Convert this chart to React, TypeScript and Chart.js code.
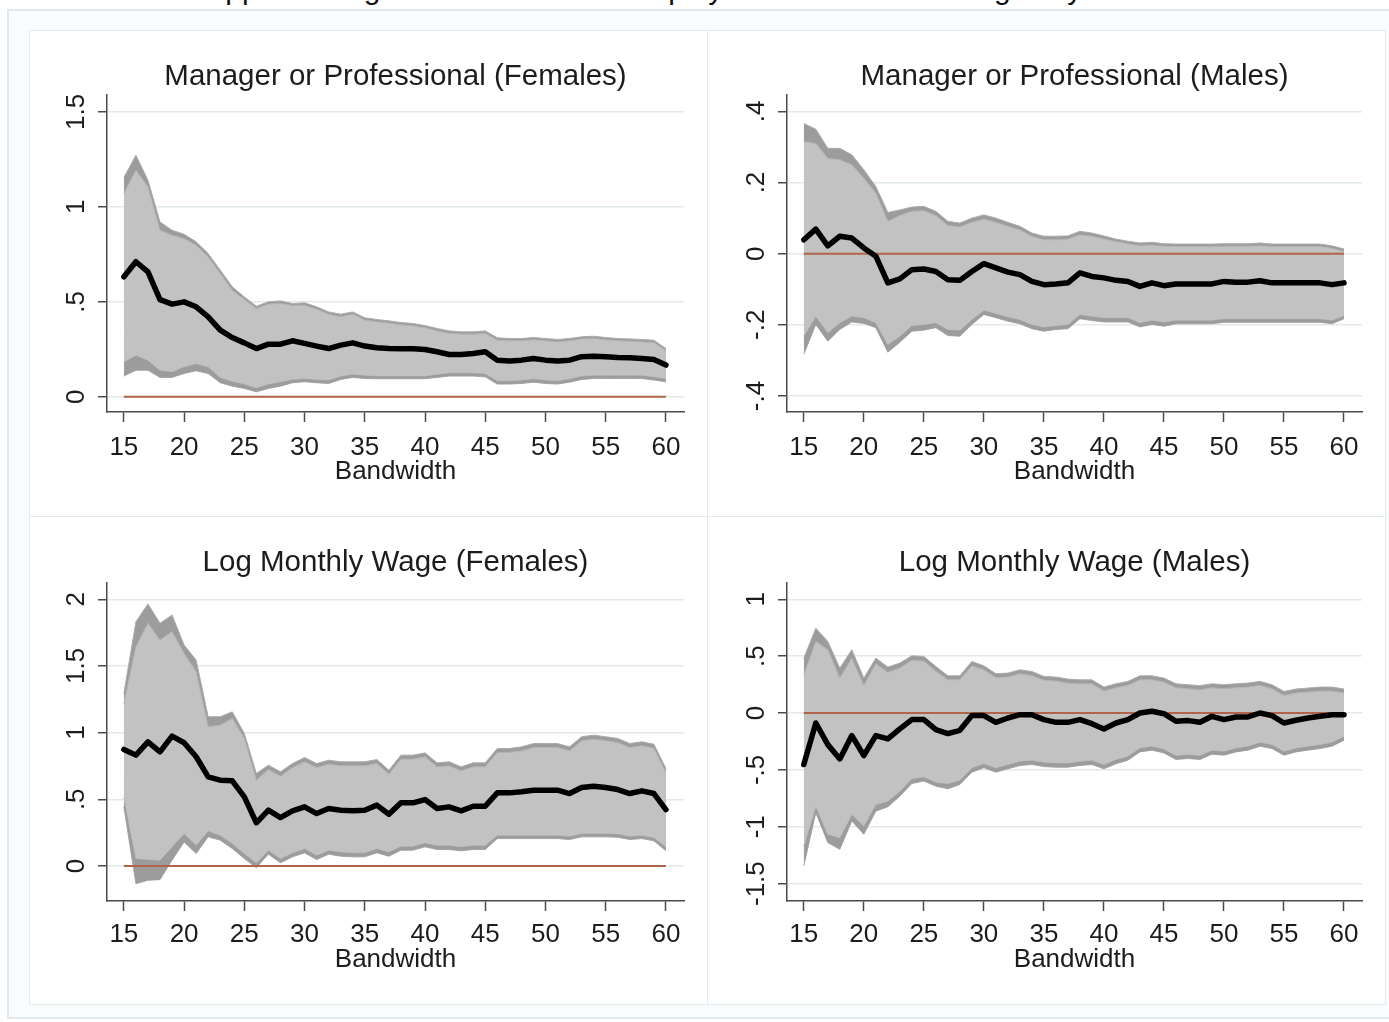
import React, { useEffect, useRef } from 'react';
import { Chart, registerables } from 'chart.js';

Chart.register(...registerables);

const FONT = '"Liberation Sans", Arial, Helvetica, sans-serif';
const TEXT = '#1c1c1c';
const AXIS = '#4a4a4a';
const GRID = '#e1e9ed';
const OUTER_FILL = '#9c9c9c';
const INNER_FILL = '#c2c2c2';
const ZERO_LINE = '#b0654a';

// Bandwidth values on the horizontal axis
const bandwidth = [
  15, 16, 17, 18, 19, 20, 21, 22, 23, 24, 25, 26, 27, 28, 29, 30, 31, 32, 33, 34, 35, 36, 37,
  38, 39, 40, 41, 42, 43, 44, 45, 46, 47, 48, 49, 50, 51, 52, 53, 54, 55, 56, 57, 58, 59, 60,
];
const xTicks = [15, 20, 25, 30, 35, 40, 45, 50, 55, 60];

// Manager or Professional (Females)
const mgrFemEst = [
  0.632, 0.711, 0.658, 0.512, 0.488, 0.5, 0.474, 0.421, 0.351, 0.312, 0.284, 0.254, 0.277, 0.277,
  0.295, 0.281, 0.267, 0.254, 0.272, 0.284, 0.267, 0.258, 0.254, 0.253, 0.253, 0.249, 0.237, 0.223,
  0.223, 0.228, 0.237, 0.193, 0.189, 0.193, 0.202, 0.193, 0.188, 0.193, 0.211, 0.214, 0.211, 0.207,
  0.205, 0.202, 0.196, 0.167,
];
const mgrFemHi = [
  1.07, 1.193, 1.105, 0.877, 0.851, 0.833, 0.798, 0.737, 0.649, 0.561, 0.512, 0.465, 0.488, 0.491,
  0.481, 0.482, 0.461, 0.435, 0.421, 0.435, 0.404, 0.395, 0.388, 0.379, 0.374, 0.363, 0.347, 0.335,
  0.33, 0.33, 0.335, 0.298, 0.295, 0.295, 0.3, 0.295, 0.289, 0.295, 0.304, 0.307, 0.3, 0.295, 0.293,
  0.289, 0.286, 0.242,
];
const mgrFemLo = [
  0.184, 0.219, 0.193, 0.14, 0.132, 0.158, 0.175, 0.158, 0.102, 0.082, 0.067, 0.047, 0.067, 0.079,
  0.091, 0.096, 0.091, 0.088, 0.109, 0.119, 0.114, 0.11, 0.11, 0.11, 0.11, 0.11, 0.119, 0.126, 0.126,
  0.126, 0.123, 0.084, 0.084, 0.088, 0.095, 0.088, 0.084, 0.095, 0.109, 0.114, 0.114, 0.114, 0.114,
  0.114, 0.105, 0.096,
];
const mgrFemHiWide = [
  1.154, 1.272, 1.14, 0.921, 0.877, 0.856, 0.816, 0.754, 0.667, 0.579, 0.526, 0.477, 0.5, 0.505,
  0.491, 0.495, 0.474, 0.447, 0.435, 0.447, 0.416, 0.407, 0.4, 0.391, 0.386, 0.375, 0.36, 0.347,
  0.342, 0.342, 0.347, 0.311, 0.307, 0.307, 0.312, 0.307, 0.302, 0.307, 0.316, 0.319, 0.312, 0.307,
  0.305, 0.302, 0.298, 0.254,
];
const mgrFemLoWide = [
  0.109, 0.14, 0.14, 0.102, 0.102, 0.123, 0.137, 0.123, 0.074, 0.056, 0.044, 0.026, 0.044, 0.056,
  0.074, 0.079, 0.074, 0.07, 0.091, 0.102, 0.096, 0.095, 0.095, 0.095, 0.095, 0.095, 0.102, 0.109,
  0.109, 0.109, 0.105, 0.067, 0.067, 0.07, 0.077, 0.07, 0.067, 0.077, 0.091, 0.096, 0.096, 0.096,
  0.096, 0.096, 0.088, 0.079,
];
const mgrFemYTicks = [0, 0.5, 1, 1.5];
const mgrFemYLabels = ['0', '.5', '1', '1.5'];

// Manager or Professional (Males)
const mgrMaleEst = [
  0.039, 0.069, 0.022, 0.049, 0.044, 0.016, -0.007, -0.082, -0.071, -0.045, -0.043, -0.05, -0.073,
  -0.075, -0.05, -0.028, -0.04, -0.052, -0.059, -0.078, -0.087, -0.085, -0.082, -0.054, -0.064,
  -0.068, -0.075, -0.078, -0.092, -0.082, -0.09, -0.085, -0.085, -0.085, -0.085, -0.078, -0.08,
  -0.08, -0.076, -0.082, -0.082, -0.082, -0.082, -0.082, -0.087, -0.082,
];
const mgrMaleHi = [
  0.315, 0.31, 0.268, 0.264, 0.25, 0.212, 0.17, 0.091, 0.107, 0.119, 0.121, 0.107, 0.079, 0.075,
  0.088, 0.097, 0.088, 0.077, 0.067, 0.049, 0.039, 0.039, 0.041, 0.053, 0.049, 0.041, 0.034, 0.028,
  0.022, 0.024, 0.021, 0.02, 0.02, 0.02, 0.02, 0.021, 0.021, 0.021, 0.022, 0.02, 0.02, 0.02, 0.02,
  0.02, 0.015, 0.006,
];
const mgrMaleLo = [
  -0.232, -0.176, -0.222, -0.194, -0.176, -0.18, -0.194, -0.255, -0.232, -0.202, -0.199, -0.194,
  -0.213, -0.215, -0.185, -0.159, -0.168, -0.178, -0.185, -0.199, -0.206, -0.202, -0.199, -0.171,
  -0.176, -0.18, -0.18, -0.18, -0.194, -0.187, -0.192, -0.187, -0.187, -0.187, -0.187, -0.183,
  -0.183, -0.183, -0.183, -0.183, -0.183, -0.183, -0.183, -0.183, -0.187, -0.174,
];
const mgrMaleHiWide = [
  0.366, 0.35, 0.296, 0.296, 0.278, 0.236, 0.189, 0.116, 0.123, 0.131, 0.133, 0.119, 0.091, 0.086,
  0.1, 0.109, 0.1, 0.088, 0.077, 0.058, 0.049, 0.049, 0.05, 0.063, 0.058, 0.05, 0.041, 0.035, 0.03,
  0.032, 0.028, 0.027, 0.027, 0.027, 0.027, 0.028, 0.028, 0.028, 0.03, 0.027, 0.027, 0.027, 0.027,
  0.027, 0.022, 0.013,
];
const mgrMaleLoWide = [
  -0.283, -0.199, -0.246, -0.213, -0.192, -0.196, -0.208, -0.277, -0.249, -0.218, -0.215, -0.208,
  -0.23, -0.232, -0.199, -0.171, -0.18, -0.19, -0.197, -0.211, -0.218, -0.213, -0.211, -0.183,
  -0.188, -0.192, -0.192, -0.192, -0.206, -0.199, -0.204, -0.197, -0.197, -0.197, -0.197, -0.193,
  -0.193, -0.193, -0.193, -0.193, -0.193, -0.193, -0.193, -0.193, -0.197, -0.183,
];
const mgrMaleYTicks = [-0.4, -0.2, 0, 0.2, 0.4];
const mgrMaleYLabels = ['-.4', '-.2', '0', '.2', '.4'];

// Log Monthly Wage (Females)
const wageFemEst = [
  0.874, 0.831, 0.931, 0.856, 0.974, 0.924, 0.819, 0.668, 0.643, 0.638, 0.518, 0.323, 0.418, 0.363,
  0.413, 0.443, 0.393, 0.431, 0.418, 0.413, 0.418, 0.456, 0.388, 0.473, 0.473, 0.498, 0.431, 0.443,
  0.413, 0.448, 0.448, 0.548, 0.548, 0.556, 0.568, 0.568, 0.568, 0.543, 0.588, 0.598, 0.588, 0.573,
  0.543, 0.563, 0.543, 0.423,
];
const wageFemHi = [
  1.219, 1.644, 1.82, 1.694, 1.757, 1.594, 1.456, 1.044, 1.056, 1.106, 0.956, 0.643, 0.723, 0.673,
  0.738, 0.781, 0.738, 0.763, 0.751, 0.751, 0.751, 0.768, 0.688, 0.801, 0.801, 0.818, 0.743, 0.751,
  0.713, 0.743, 0.743, 0.851, 0.851, 0.863, 0.888, 0.888, 0.888, 0.863, 0.939, 0.951, 0.939, 0.926,
  0.888, 0.901, 0.883, 0.698,
];
const wageFemLo = [
  0.518, 0.055, 0.048, 0.043, 0.143, 0.243, 0.155, 0.263, 0.23, 0.168, 0.093, 0.023, 0.118, 0.055,
  0.098, 0.13, 0.08, 0.118, 0.105, 0.098, 0.098, 0.13, 0.105, 0.148, 0.148, 0.173, 0.155, 0.155,
  0.143, 0.155, 0.155, 0.23, 0.23, 0.23, 0.23, 0.23, 0.23, 0.223, 0.243, 0.243, 0.243, 0.24, 0.223,
  0.23, 0.213, 0.143,
];
const wageFemHiWide = [
  1.294, 1.832, 1.965, 1.82, 1.882, 1.657, 1.544, 1.119, 1.119, 1.156, 0.994, 0.693, 0.756, 0.706,
  0.768, 0.813, 0.768, 0.793, 0.781, 0.781, 0.781, 0.798, 0.718, 0.831, 0.831, 0.848, 0.773, 0.781,
  0.743, 0.773, 0.773, 0.881, 0.881, 0.893, 0.918, 0.918, 0.918, 0.893, 0.969, 0.981, 0.969, 0.956,
  0.918, 0.931, 0.913, 0.731,
];
const wageFemLoWide = [
  0.443, -0.133, -0.108, -0.103, 0.043, 0.18, 0.093, 0.218, 0.193, 0.13, 0.055, -0.013, 0.088, 0.023,
  0.068, 0.098, 0.048, 0.088, 0.073, 0.068, 0.068, 0.098, 0.073, 0.118, 0.118, 0.143, 0.123, 0.123,
  0.113, 0.123, 0.123, 0.205, 0.205, 0.205, 0.205, 0.205, 0.205, 0.198, 0.218, 0.218, 0.218, 0.215,
  0.198, 0.205, 0.188, 0.113,
];
const wageFemYTicks = [0, 0.5, 1, 1.5, 2];
const wageFemYLabels = ['0', '.5', '1', '1.5', '2'];

// Log Monthly Wage (Males)
const wageMaleEst = [
  -0.453, -0.088, -0.278, -0.404, -0.199, -0.374, -0.199, -0.228, -0.14, -0.058, -0.058, -0.146,
  -0.181, -0.152, -0.023, -0.023, -0.082, -0.044, -0.015, -0.015, -0.058, -0.082, -0.082, -0.058,
  -0.094, -0.14, -0.088, -0.058, 0, 0.015, -0.006, -0.073, -0.067, -0.082, -0.029, -0.058, -0.035,
  -0.035, 0, -0.023, -0.088, -0.064, -0.044, -0.029, -0.015, -0.015,
];
const wageMaleHi = [
  0.336, 0.629, 0.556, 0.307, 0.482, 0.24, 0.433, 0.357, 0.395, 0.462, 0.456, 0.368, 0.292, 0.292,
  0.415, 0.38, 0.31, 0.316, 0.345, 0.33, 0.287, 0.281, 0.263, 0.257, 0.257, 0.193, 0.222, 0.243,
  0.292, 0.292, 0.272, 0.222, 0.213, 0.205, 0.222, 0.213, 0.222, 0.228, 0.243, 0.213, 0.155, 0.175,
  0.184, 0.193, 0.193, 0.175,
];
const wageMaleLo = [
  -1.17, -0.819, -1.067, -1.096, -0.892, -0.994, -0.804, -0.775, -0.687, -0.579, -0.561, -0.608,
  -0.62, -0.591, -0.482, -0.444, -0.482, -0.453, -0.424, -0.415, -0.433, -0.439, -0.439, -0.424,
  -0.415, -0.453, -0.409, -0.38, -0.307, -0.292, -0.316, -0.374, -0.365, -0.374, -0.327, -0.336,
  -0.307, -0.292, -0.257, -0.278, -0.336, -0.307, -0.292, -0.278, -0.257, -0.205,
];
const wageMaleHiWide = [
  0.482, 0.746, 0.629, 0.395, 0.556, 0.307, 0.482, 0.404, 0.439, 0.503, 0.497, 0.409, 0.327, 0.327,
  0.453, 0.415, 0.345, 0.351, 0.38, 0.365, 0.322, 0.316, 0.298, 0.292, 0.292, 0.228, 0.257, 0.278,
  0.327, 0.327, 0.307, 0.257, 0.249, 0.24, 0.257, 0.249, 0.257, 0.263, 0.278, 0.249, 0.19, 0.211,
  0.219, 0.228, 0.228, 0.211,
];
const wageMaleLoWide = [
  -1.345, -0.877, -1.14, -1.199, -0.95, -1.067, -0.863, -0.825, -0.731, -0.62, -0.599, -0.643,
  -0.667, -0.629, -0.52, -0.482, -0.52, -0.491, -0.462, -0.453, -0.471, -0.477, -0.477, -0.462,
  -0.453, -0.491, -0.447, -0.415, -0.342, -0.327, -0.351, -0.409, -0.4, -0.409, -0.362, -0.371,
  -0.342, -0.327, -0.292, -0.313, -0.371, -0.342, -0.327, -0.313, -0.292, -0.24,
];
const wageMaleYTicks = [-1.5, -1, -0.5, 0, 0.5, 1];
const wageMaleYLabels = ['-1.5', '-1', '-.5', '0', '.5', '1'];

// Horizontal reference line
const referenceValue = 0;

type PanelSpec = {
  title: string;
  est: number[];
  hi: number[];
  lo: number[];
  hiWide: number[];
  loWide: number[];
  yMin: number;
  yMax: number;
  yTicks: number[];
  yLabels: string[];
  left: number;
  top: number;
  width: number;
  height: number;
  axisWidth: number;
  plotRight: number;
  plotTop: number;
  plotBottom: number;
  xTickPad: number;
  xTitleBottom: number;
};

const toPoints = (vals: number[]) => bandwidth.map((b, i) => ({ x: b, y: vals[i] }));

// Stata-style vertical tick labels on the y axis
const rotatedYLabels = {
  id: 'rotatedYLabels',
  afterDraw(chart: any, _args: any, opts: any) {
    const scale = chart.scales.y;
    const { ctx } = chart;
    ctx.save();
    ctx.font = `26px ${FONT}`;
    ctx.fillStyle = TEXT;
    ctx.textAlign = 'center';
    ctx.textBaseline = 'middle';
    (opts.values as number[]).forEach((v: number, i: number) => {
      const y = scale.getPixelForValue(v);
      ctx.save();
      ctx.translate(chart.chartArea.left - 30, y);
      ctx.rotate(-Math.PI / 2);
      ctx.fillText(opts.labels[i], 0, 0);
      ctx.restore();
    });
    ctx.restore();
  },
};

function Panel({ spec }: { spec: PanelSpec }) {
  const ref = useRef<HTMLCanvasElement | null>(null);

  useEffect(() => {
    if (!ref.current) return;
    const titleSize = 29.5;
    const titleLine = titleSize * 1.2;
    const titleCenter = 46;
    const padTop = titleCenter - titleLine / 2;
    const padBottom = spec.plotTop - padTop - titleLine;

    const chart = new Chart(ref.current, {
      type: 'line',
      data: {
        datasets: [
          {
            label: 'estimate',
            data: toPoints(spec.est),
            borderColor: '#000000',
            borderWidth: 5.5,
            borderJoinStyle: 'round',
            borderCapStyle: 'round',
            pointRadius: 0,
            fill: false,
            order: 1,
          },
          {
            label: 'zero',
            data: bandwidth.map((b) => ({ x: b, y: referenceValue })),
            borderColor: ZERO_LINE,
            borderWidth: 2,
            pointRadius: 0,
            fill: false,
            order: 2,
          },
          {
            label: 'ci upper',
            data: toPoints(spec.hi),
            borderColor: '#b4b4b4',
            borderWidth: 1,
            backgroundColor: INNER_FILL,
            pointRadius: 0,
            fill: '+1',
            order: 3,
          },
          {
            label: 'ci lower',
            data: toPoints(spec.lo),
            borderColor: '#b4b4b4',
            borderWidth: 1,
            pointRadius: 0,
            fill: false,
            order: 3,
          },
          {
            label: 'wide upper',
            data: toPoints(spec.hiWide),
            borderColor: '#acacac',
            borderWidth: 1,
            backgroundColor: OUTER_FILL,
            pointRadius: 0,
            fill: '+1',
            order: 4,
          },
          {
            label: 'wide lower',
            data: toPoints(spec.loWide),
            borderColor: '#acacac',
            borderWidth: 1,
            pointRadius: 0,
            fill: false,
            order: 4,
          },
        ],
      },
      options: {
        animation: false,
        responsive: false,
        events: [],
        layout: { padding: { left: 0, right: spec.width - spec.plotRight, top: 0, bottom: 0 } },
        plugins: {
          legend: { display: false },
          tooltip: { enabled: false },
          title: {
            display: true,
            text: spec.title,
            fullSize: false,
            color: TEXT,
            font: { family: FONT, size: titleSize, weight: 'normal', lineHeight: 1.2 },
            padding: { top: padTop, bottom: padBottom },
          },
          rotatedYLabels: { values: spec.yTicks, labels: spec.yLabels },
        } as any,
        scales: {
          x: {
            type: 'linear',
            min: 13.6,
            max: 61.5,
            afterBuildTicks: (s: any) => {
              s.ticks = xTicks.map((v) => ({ value: v }));
            },
            afterFit: (s: any) => {
              s.height = spec.height - spec.plotBottom;
            },
            grid: {
              drawOnChartArea: false,
              drawTicks: true,
              tickLength: 10,
              tickColor: AXIS,
              tickWidth: 1.5,
            },
            border: { display: true, color: AXIS, width: 1.5 },
            ticks: {
              autoSkip: false,
              maxRotation: 0,
              minRotation: 0,
              padding: spec.xTickPad,
              color: TEXT,
              font: { family: FONT, size: 26 },
              callback: (v: any) => String(v),
            },
            title: {
              display: true,
              text: 'Bandwidth',
              color: TEXT,
              font: { family: FONT, size: 26, lineHeight: 1.2 },
              padding: { top: 0, bottom: spec.xTitleBottom },
            },
          },
          y: {
            type: 'linear',
            min: spec.yMin,
            max: spec.yMax,
            afterBuildTicks: (s: any) => {
              s.ticks = spec.yTicks.map((v) => ({ value: v }));
            },
            afterFit: (s: any) => {
              s.width = spec.axisWidth;
            },
            grid: {
              color: GRID,
              lineWidth: 1.5,
              drawTicks: true,
              tickLength: 9,
              tickColor: AXIS,
              tickWidth: 1.5,
            },
            border: { display: true, color: AXIS, width: 1.5 },
            ticks: { display: false },
          },
        },
      } as any,
      plugins: [rotatedYLabels],
    });
    return () => chart.destroy();
  }, [spec]);

  return (
    <div
      style={{
        position: 'absolute',
        left: spec.left,
        top: spec.top,
        width: spec.width,
        height: spec.height,
        background: '#ffffff',
        outline: '1px solid #e2eaed',
      }}
    >
      <canvas ref={ref} width={spec.width} height={spec.height} style={{ display: 'block' }} />
    </div>
  );
}

const panels: PanelSpec[] = [
  {
    title: 'Manager or Professional (Females)',
    est: mgrFemEst,
    hi: mgrFemHi,
    lo: mgrFemLo,
    hiWide: mgrFemHiWide,
    loWide: mgrFemLoWide,
    yMin: -0.08,
    yMax: 1.589,
    yTicks: mgrFemYTicks,
    yLabels: mgrFemYLabels,
    left: 30,
    top: 31,
    width: 678,
    height: 486,
    axisWidth: 77,
    plotRight: 654,
    plotTop: 64,
    plotBottom: 381,
    xTickPad: 10,
    xTitleBottom: 30,
  },
  {
    title: 'Manager or Professional (Males)',
    est: mgrMaleEst,
    hi: mgrMaleHi,
    lo: mgrMaleLo,
    hiWide: mgrMaleHiWide,
    loWide: mgrMaleLoWide,
    yMin: -0.445,
    yMax: 0.446,
    yTicks: mgrMaleYTicks,
    yLabels: mgrMaleYLabels,
    left: 708,
    top: 31,
    width: 677,
    height: 486,
    axisWidth: 79,
    plotRight: 654,
    plotTop: 64,
    plotBottom: 381,
    xTickPad: 10,
    xTitleBottom: 30,
  },
  {
    title: 'Log Monthly Wage (Females)',
    est: wageFemEst,
    hi: wageFemHi,
    lo: wageFemLo,
    hiWide: wageFemHiWide,
    loWide: wageFemLoWide,
    yMin: -0.263,
    yMax: 2.122,
    yTicks: wageFemYTicks,
    yLabels: wageFemYLabels,
    left: 30,
    top: 517,
    width: 678,
    height: 487,
    axisWidth: 77,
    plotRight: 654,
    plotTop: 66,
    plotBottom: 384,
    xTickPad: 8,
    xTitleBottom: 29,
  },
  {
    title: 'Log Monthly Wage (Males)',
    est: wageMaleEst,
    hi: wageMaleHi,
    lo: wageMaleLo,
    hiWide: wageMaleHiWide,
    loWide: wageMaleLoWide,
    yMin: -1.653,
    yMax: 1.143,
    yTicks: wageMaleYTicks,
    yLabels: wageMaleYLabels,
    left: 708,
    top: 517,
    width: 677,
    height: 487,
    axisWidth: 79,
    plotRight: 654,
    plotTop: 66,
    plotBottom: 384,
    xTickPad: 8,
    xTitleBottom: 29,
  },
];

export default function App() {
  return (
    <div
      style={{
        position: 'absolute',
        left: 0,
        top: 0,
        width: 1389,
        height: 1022,
        overflow: 'hidden',
        background: '#ffffff',
        fontFamily: FONT,
      }}
    >
      <div
        style={{
          position: 'absolute',
          left: 0,
          top: -28,
          width: 1436,
          textAlign: 'center',
          fontSize: 30,
          lineHeight: '34px',
          color: '#111',
          whiteSpace: 'nowrap',
        }}
      >
        Appendix Figure 10: Effects on Employment Status and Wages by Bandwidth
      </div>
      <div
        style={{
          position: 'absolute',
          left: 7,
          top: 9,
          width: 1400,
          height: 1010,
          border: '2px solid #dfe8ec',
          background: '#fafbfc',
          boxSizing: 'border-box',
        }}
      />
      {panels.map((p) => (
        <Panel key={p.title} spec={p} />
      ))}
    </div>
  );
}
